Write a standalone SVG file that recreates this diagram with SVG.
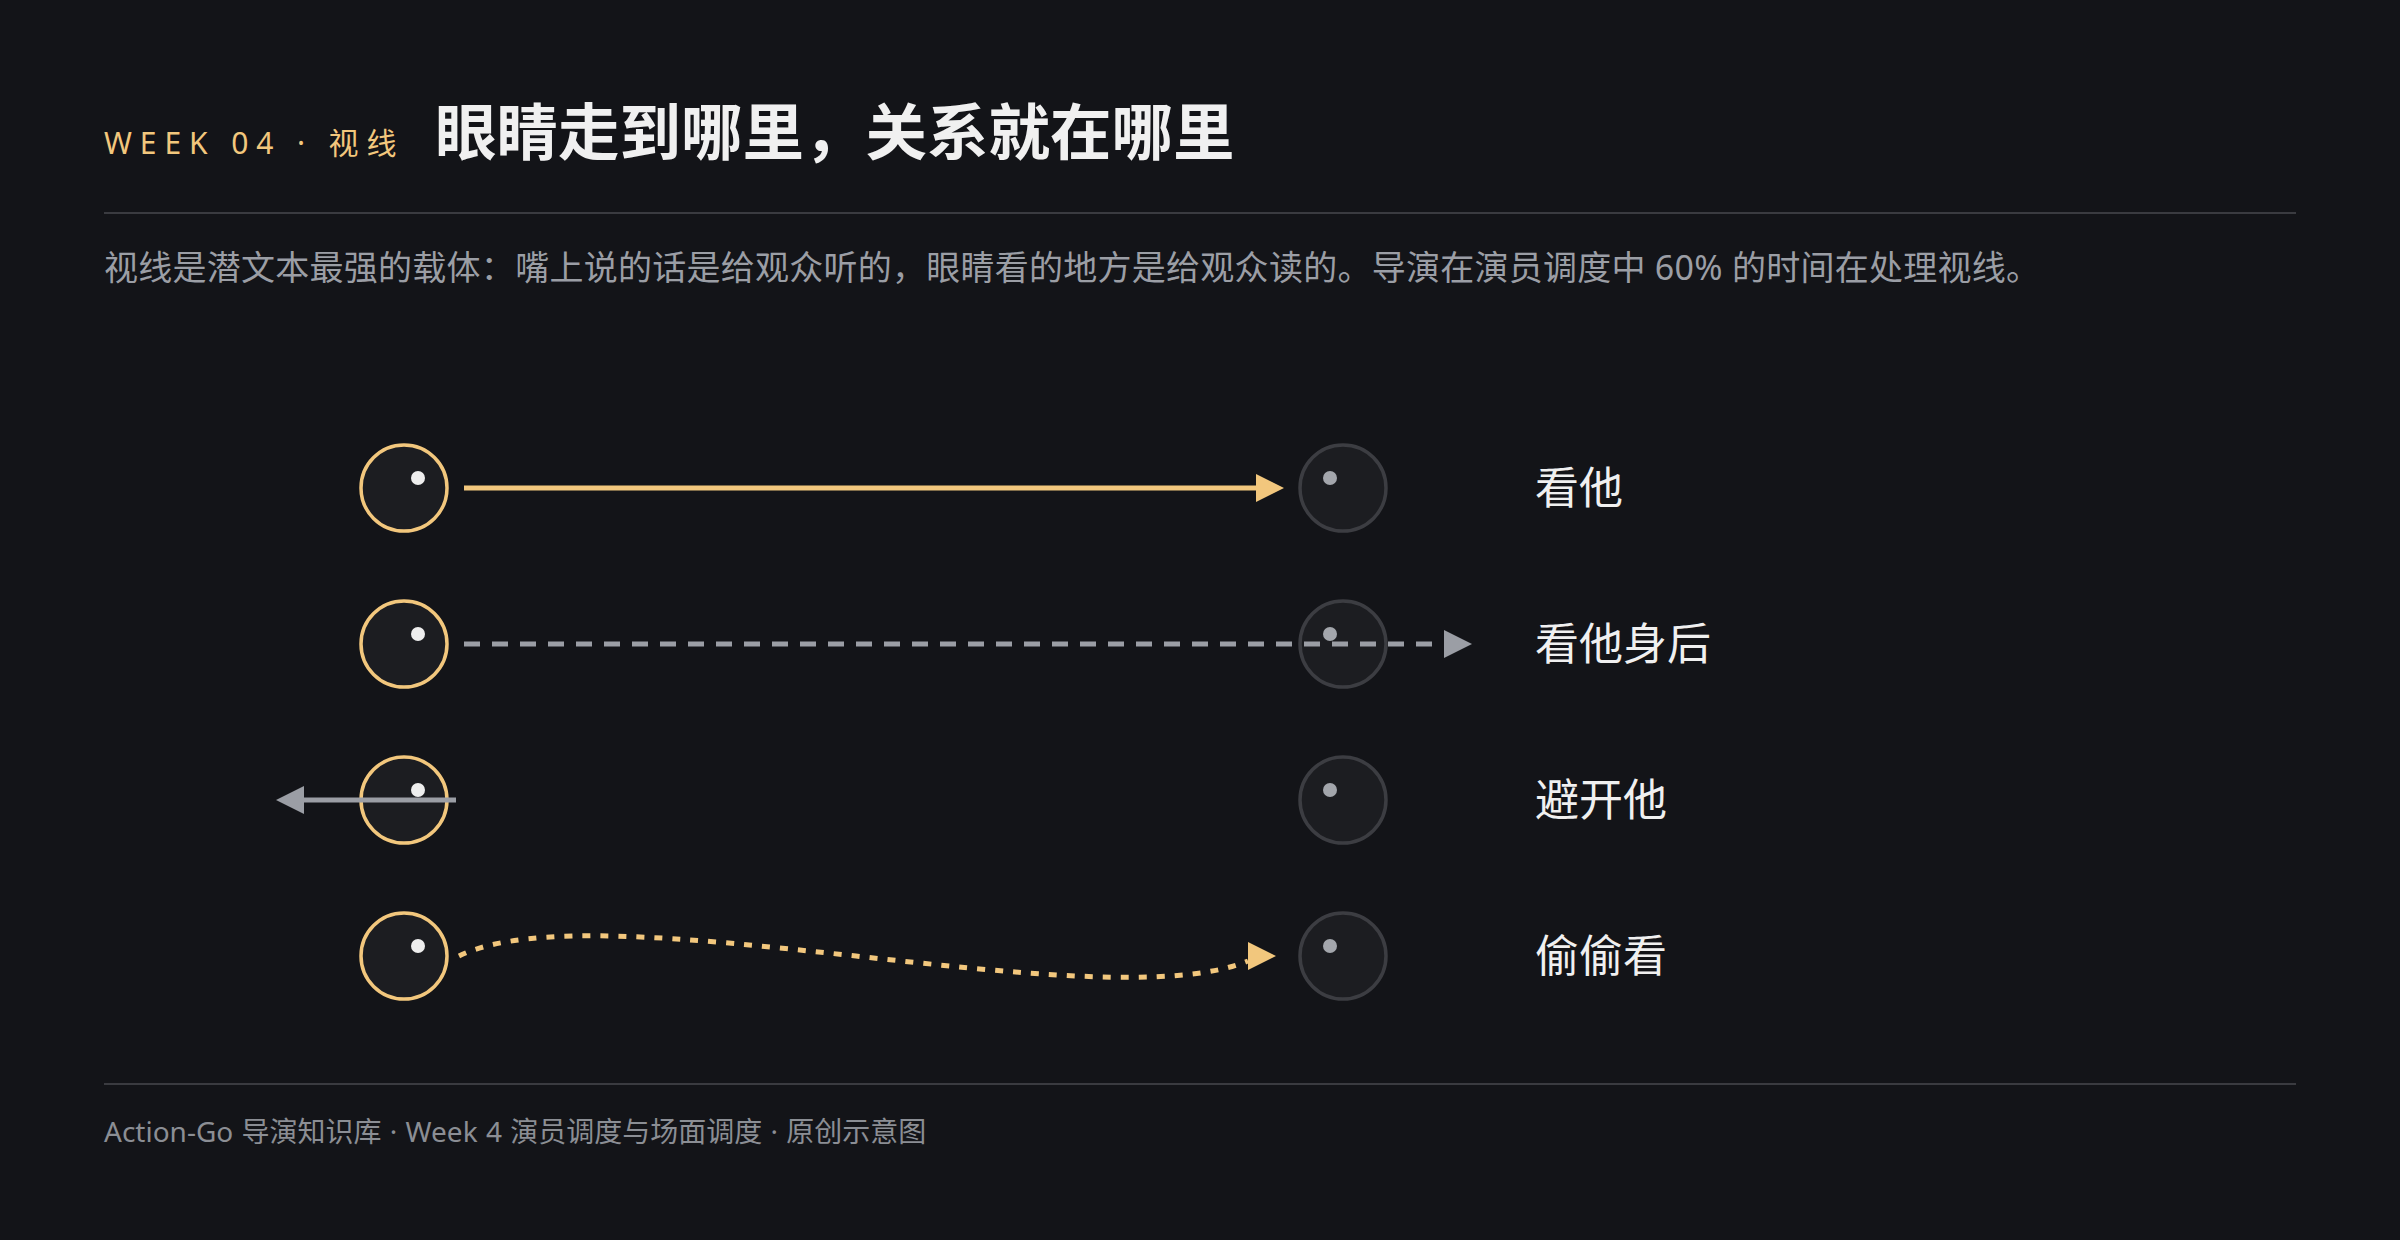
<svg xmlns="http://www.w3.org/2000/svg" width="2400" height="1240" viewBox="0 0 2400 1240">
<style>
.bg{fill:#131418}
.rule{stroke:#3a3b40;stroke-width:2}
.kicker{font-family:"Noto Sans","Noto Sans CJK SC",sans-serif;font-size:30px;letter-spacing:7.9px;fill:#f2c77d}
.title{font-family:"Noto Sans CJK SC","Noto Sans",sans-serif;font-size:61.5px;font-weight:700;fill:#f0f0f0}
.sub{font-family:"Noto Sans","Noto Sans CJK SC",sans-serif;font-size:34px;fill:#9b9ea5}
.foot{font-family:"Noto Sans","Noto Sans CJK SC",sans-serif;font-size:28px;fill:#8b8e94;word-spacing:1px}
.label{font-family:"Noto Sans CJK SC","Noto Sans",sans-serif;font-size:44px;font-weight:400;fill:#f0f0f0}
.me{fill:#1c1d21;stroke:#f2c77d;stroke-width:3.5}
.me-p{fill:#eeeeee}
.him{fill:#1c1d21;stroke:#3c3d42;stroke-width:3.5}
.him-p{fill:#a3a6ac}
.gold{stroke:#f2c77d;stroke-width:5;fill:none}
.grey{stroke:#9b9ea5;stroke-width:5;fill:none}
</style>
<defs>
<marker id="ah-gold" markerUnits="userSpaceOnUse" markerWidth="28" markerHeight="28" refX="0" refY="14" orient="auto" viewBox="0 0 28 28">
<path d="M0,0 L28,14 L0,28 Z" fill="#f2c77d"/>
</marker>
<marker id="ah-grey" markerUnits="userSpaceOnUse" markerWidth="28" markerHeight="28" refX="0" refY="14" orient="auto" viewBox="0 0 28 28">
<path d="M0,0 L28,14 L0,28 Z" fill="#9b9ea5"/>
</marker>
</defs>
<rect class="bg" x="0" y="0" width="2400" height="1240"/>

<g id="header">
<text class="kicker" x="104" y="154">WEEK 04 · 视线</text>
<text class="title" x="435" y="155">眼睛走到哪里，关系就在哪里</text>
<line class="rule" x1="104" y1="213" x2="2296" y2="213"/>
<text class="sub" x="104" y="280" textLength="1936" lengthAdjust="spacing">视线是潜文本最强的载体：嘴上说的话是给观众听的，眼睛看的地方是给观众读的。导演在演员调度中 60% 的时间在处理视线。</text>
</g>

<g id="eye-me-1"><circle class="me" cx="404" cy="488" r="43"/><circle class="me-p" cx="418" cy="478" r="7"/></g>
<g id="eye-him-1"><circle class="him" cx="1343" cy="488" r="43"/><circle class="him-p" cx="1330" cy="478" r="7"/></g>
<g id="eye-me-2"><circle class="me" cx="404" cy="644" r="43"/><circle class="me-p" cx="418" cy="634" r="7"/></g>
<g id="eye-him-2"><circle class="him" cx="1343" cy="644" r="43"/><circle class="him-p" cx="1330" cy="634" r="7"/></g>
<g id="eye-me-3"><circle class="me" cx="404" cy="800" r="43"/><circle class="me-p" cx="418" cy="790" r="7"/></g>
<g id="eye-him-3"><circle class="him" cx="1343" cy="800" r="43"/><circle class="him-p" cx="1330" cy="790" r="7"/></g>
<g id="eye-me-4"><circle class="me" cx="404" cy="956" r="43"/><circle class="me-p" cx="418" cy="946" r="7"/></g>
<g id="eye-him-4"><circle class="him" cx="1343" cy="956" r="43"/><circle class="him-p" cx="1330" cy="946" r="7"/></g>

<g id="connectors">
<line class="gold" x1="464" y1="488" x2="1256" y2="488" marker-end="url(#ah-gold)"/>
<line class="grey" x1="464" y1="644" x2="1444" y2="644" stroke-dasharray="16 12" marker-end="url(#ah-grey)"/>
<line class="grey" x1="456" y1="800" x2="304" y2="800" marker-end="url(#ah-grey)"/>
<path class="gold" d="M 459 956 C 600 887, 1100 1022, 1248 961" stroke-dasharray="8 10"/>
<path d="M1248,942 L1276,956 L1248,970 Z" fill="#f2c77d"/>
</g>

<g id="label-1"><text class="label" x="1535" y="504">看他</text></g>
<g id="label-2"><text class="label" x="1535" y="660">看他身后</text></g>
<g id="label-3"><text class="label" x="1535" y="816">避开他</text></g>
<g id="label-4"><text class="label" x="1535" y="972">偷偷看</text></g>

<g id="footer">
<line class="rule" x1="104" y1="1084" x2="2296" y2="1084"/>
<text class="foot" x="104" y="1142">Action-Go 导演知识库 · Week 4 演员调度与场面调度 · 原创示意图</text>
</g>
</svg>
